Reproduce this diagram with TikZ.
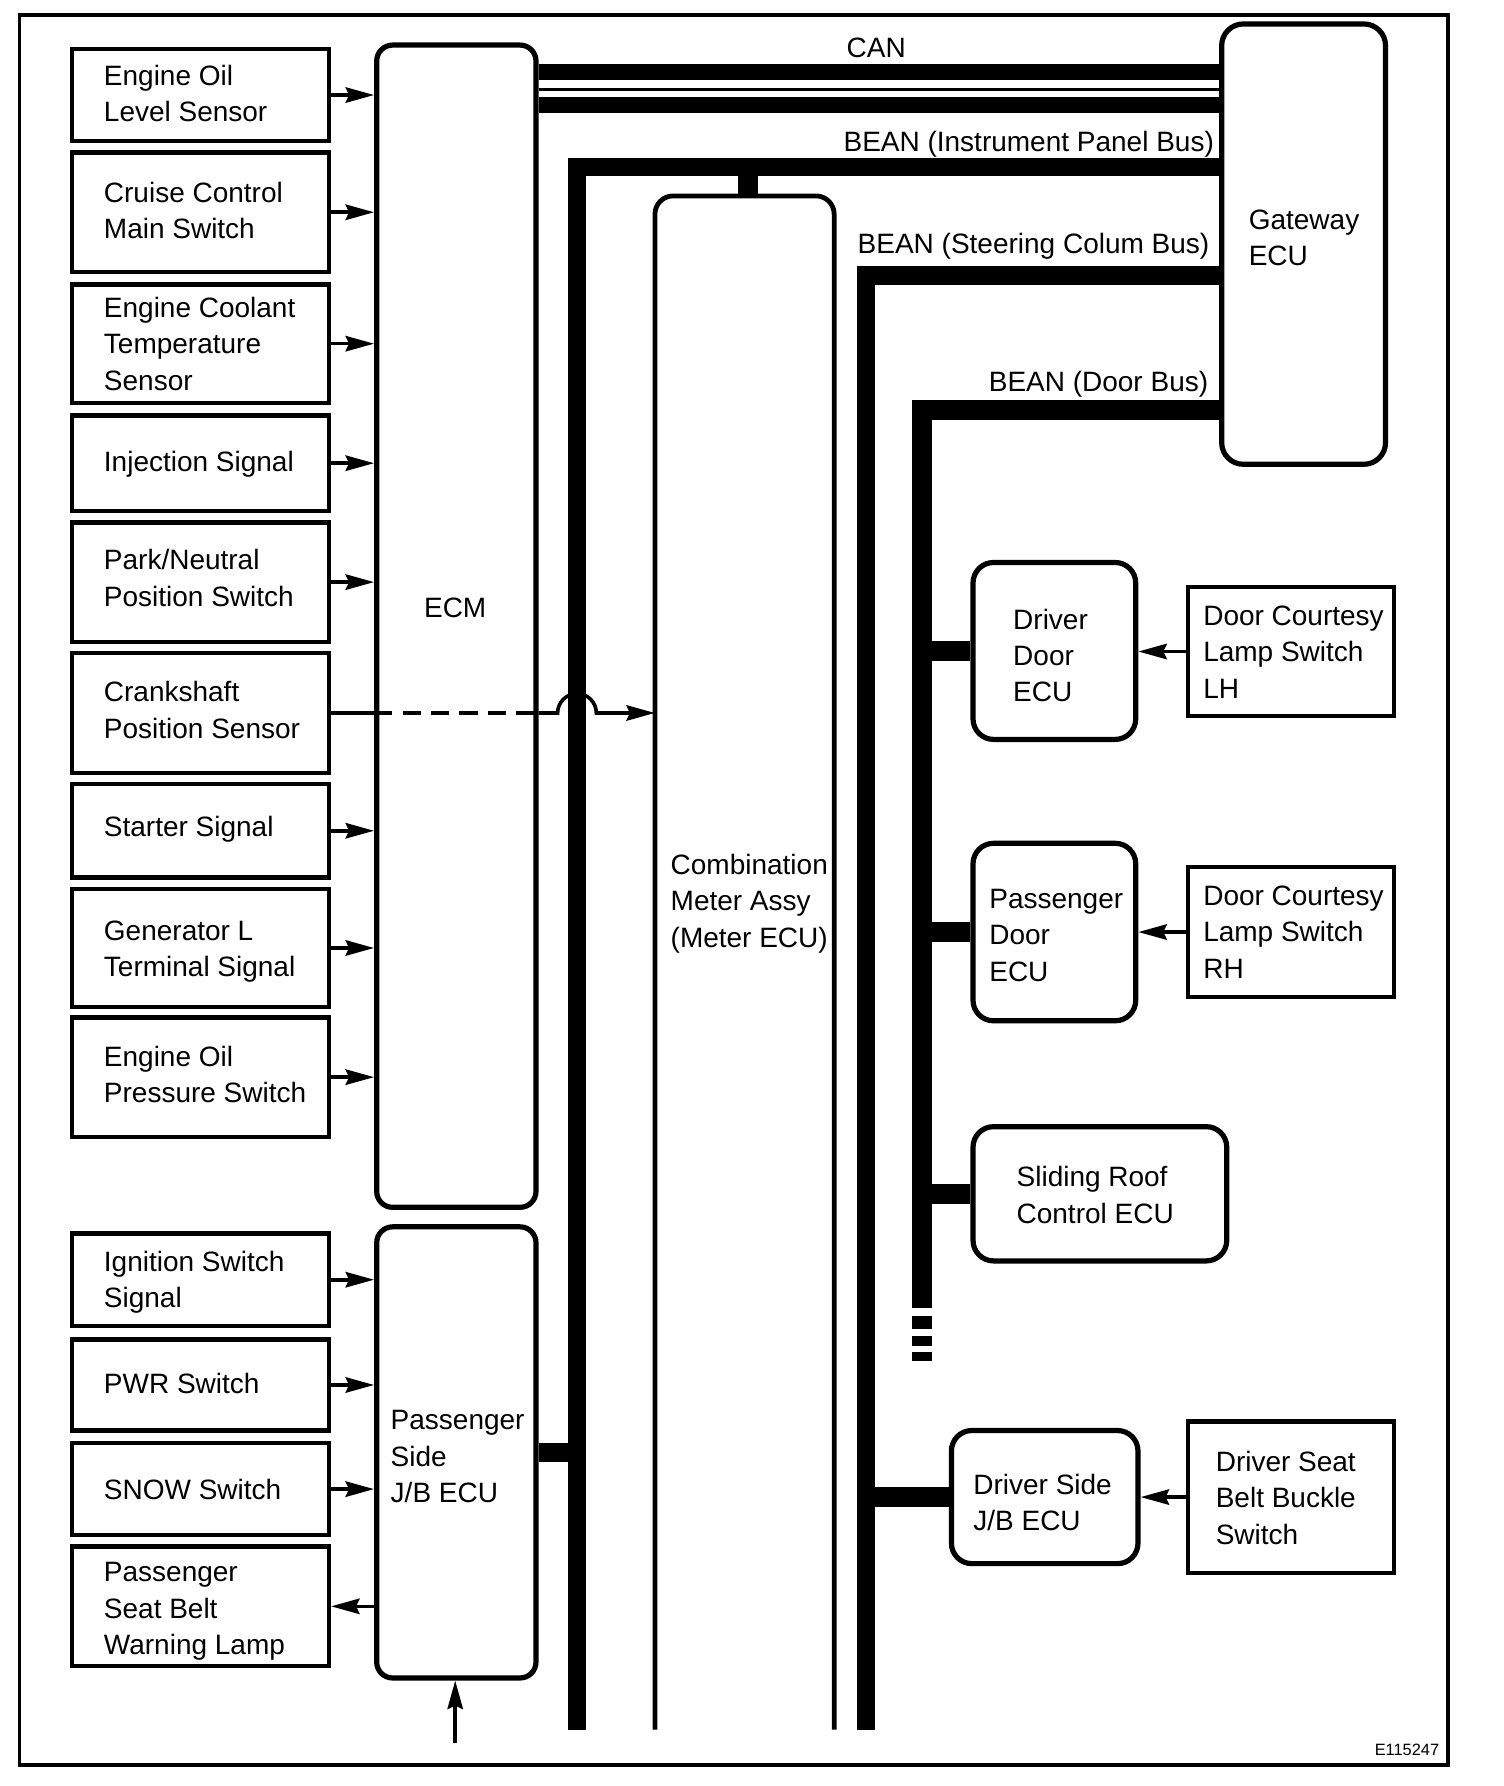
\documentclass[tikz,border=0pt]{standalone}
\usepackage{fontspec}
\setmainfont{Liberation Sans}
\usetikzlibrary{arrows.meta}

\tikzset{
  inbox/.style={draw, line width=2.2pt, minimum width=4.52cm, inner sep=0pt},
  ecu/.style={draw, line width=2.6pt, rounded corners=0.36cm, inner sep=0pt},
  txt/.style={anchor=west, align=left, inner sep=0pt, font=\fontsize{14}{18.2}\selectfont},
  lbl/.style={inner sep=0pt, font=\fontsize{14}{18.2}\selectfont},
  sig/.style={line width=1.8pt},
  arr/.style={sig, -{Stealth[length=0.5cm, width=0.27cm, inset=0.06cm]}},
  bus/.style={line width=0.32cm, line join=miter},
  canbus/.style={line width=0.28cm},
}

\begin{document}
\begin{tikzpicture}[x=0.02cm, y=-0.02cm]
\useasboundingbox (0,0) rectangle (1321.6,1569.4);

% Frame
\draw[line width=1.7pt] (17,13) rectangle (1272.4,1551);

% ECM, J/B ECU and gateway
\node[ecu, rounded corners=0.28cm, minimum width=2.8cm, minimum height=20.43cm] (ecm) at (401,550.25) {};
\node[lbl] (ecm-t) at (400,534) {ECM};
\node[ecu, rounded corners=0.28cm, minimum width=2.8cm, minimum height=7.93cm] (jb) at (401,1276.25) {};
\node[txt] (jb-t) at (343,1280) {Passenger\\Side\\J/B ECU};
\node[ecu, rounded corners=0.38cm, minimum width=2.88cm, minimum height=7.74cm] (gw) at (1145.5,214.5) {};
\node[txt] (gw-t) at (1097,209) {Gateway\\ECU};

% Combination meter, open at the bottom
\node[minimum width=3.15cm, minimum height=26.96cm, inner sep=0pt, outer sep=0pt] (meter) at (654.25,846) {};
\draw[line width=2.4pt, rounded corners=0.32cm] (meter.south west) -- (meter.north west) -- (meter.north east) -- (meter.south east);
\node[txt] (meter-t) at (589,794) {Combination\\Meter Assy\\(Meter ECU)};
\coordinate (meter-in) at (657,172);

% Input boxes
\node[inbox, minimum height=1.62cm] (oil) at (176,83.5) {};
\node[txt] (oil-t) at (91,82) {Engine Oil\\Level Sensor};
\node[inbox, minimum height=2.1cm] (cruise) at (176,186.5) {};
\node[txt] (cruise-t) at (91,185) {Cruise Control\\Main Switch};
\node[inbox, minimum height=2.08cm] (coolant) at (176,302) {};
\node[txt] (coolant-t) at (91,302) {Engine Coolant\\Temperature\\Sensor};
\node[inbox, minimum height=1.68cm] (inj) at (176,407) {};
\node[txt] (inj-t) at (91,408) {Injection Signal};
\node[inbox, minimum height=2.1cm] (park) at (176,511.5) {};
\node[txt] (park-t) at (91,508) {Park/Neutral\\Position Switch};
\node[inbox, minimum height=2.1cm] (crank) at (176,626.5) {};
\node[txt] (crank-t) at (91,624) {Crankshaft\\Position Sensor};
\node[inbox, minimum height=1.64cm] (starter) at (176,730) {};
\node[txt] (starter-t) at (91,729) {Starter Signal};
\node[inbox, minimum height=2.08cm] (gen) at (176,833) {};
\node[txt] (gen-t) at (91,836) {Generator L\\Terminal Signal};
\node[inbox, minimum height=2.1cm] (oilp) at (176,946.5) {};
\node[txt] (oilp-t) at (91,944) {Engine Oil\\Pressure Switch};
\node[inbox, minimum height=1.62cm] (ign) at (176,1124.5) {};
\node[txt] (ign-t) at (91,1127) {Ignition Switch\\Signal};
\node[inbox, minimum height=1.6cm] (pwr) at (176,1217) {};
\node[txt] (pwr-t) at (91,1216) {PWR Switch};
\node[inbox, minimum height=1.62cm] (snow) at (176,1308.5) {};
\node[txt] (snow-t) at (91,1309) {SNOW Switch};
\node[inbox, minimum height=2.1cm] (lamp) at (176,1411.5) {};
\node[txt] (lamp-t) at (91,1416) {Passenger\\Seat Belt\\Warning Lamp};

% Inputs to ECM
\draw[arr] (oil.east) -- (oil.east -| ecm.west);
\draw[arr] (cruise.east) -- (cruise.east -| ecm.west);
\draw[arr] (coolant.east) -- (coolant.east -| ecm.west);
\draw[arr] (inj.east) -- (inj.east -| ecm.west);
\draw[arr] (park.east) -- (park.east -| ecm.west);
\draw[arr] (starter.east) -- (starter.east -| ecm.west);
\draw[arr] (gen.east) -- (gen.east -| ecm.west);
\draw[arr] (oilp.east) -- (oilp.east -| ecm.west);

% Crankshaft signal to the meter, hopping over the bus
\coordinate (hop) at (490,626);
\draw[sig] (crank.east) -- (crank.east -| ecm.west);
\draw[sig, dash pattern=on 0.32cm off 0.18cm] (crank.east -| ecm.west) -- (crank.east -| ecm.east);
\draw[arr] (crank.east -| ecm.east) -- (crank.east -| hop) arc (180:0:0.34cm) -- (crank.east -| meter.west);

% Inputs to J/B ECU
\draw[arr] (ign.east) -- (ign.east -| jb.west);
\draw[arr] (pwr.east) -- (pwr.east -| jb.west);
\draw[arr] (snow.east) -- (snow.east -| jb.west);
\draw[arr] (lamp.east -| jb.west) -- (lamp.east);
\coordinate (jb-in) at (400,1532);
\draw[arr] (jb-in) -- (jb-in |- jb.south);

% CAN
\coordinate (can-a) at (771,63.5);
\coordinate (can-b) at (771,78.5);
\coordinate (can-c) at (771,92.5);
\draw[canbus] (can-a -| ecm.east) -- (can-a -| gw.west);
\draw[line width=1.3pt] (can-b -| ecm.east) -- (can-b -| gw.west);
\draw[canbus] (can-c -| ecm.east) -- (can-c -| gw.west);
\node[lbl] (can-lbl) at (770,42) {CAN};

% BEAN buses
\coordinate (ip-top) at (507,147);
\coordinate (ip-end) at (507,1520);
\draw[bus] (ip-top -| gw.west) -- (ip-top) -- (ip-end);
\draw[bus, line width=0.35cm] (meter-in) -- (meter-in |- ip-top);
\draw[bus] (jb.east) -- (jb.east -| ip-top);
\node[lbl, anchor=east] (ip-lbl) at (1067,127) {BEAN (Instrument Panel Bus)};

\coordinate (st-top) at (761,242);
\coordinate (st-end) at (761,1520);
\draw[bus] (st-top -| gw.west) -- (st-top) -- (st-end);
\node[lbl, anchor=east] (st-lbl) at (1063,216) {BEAN (Steering Colum Bus)};

\coordinate (door-top) at (810,360);
\coordinate (door-end) at (810,1149.5);
\draw[bus, line width=0.35cm] (door-top -| gw.west) -- (door-top) -- (door-end);
\draw[bus, line width=0.35cm] (810,1156.5) -- (810,1168);
\draw[bus, line width=0.35cm] (810,1174) -- (810,1183);
\draw[bus, line width=0.35cm] (810,1188) -- (810,1196);
\node[lbl, anchor=east] (door-lbl) at (1062,338) {BEAN (Door Bus)};

% Body ECUs and switches
\node[ecu, minimum width=2.86cm, minimum height=3.11cm] (ddoor) at (926.5,572) {};
\node[txt] (ddoor-t) at (890,576) {Driver\\Door\\ECU};
\node[inbox, minimum width=3.62cm, minimum height=2.26cm] (lh) at (1134.5,572.5) {};
\node[txt] (lh-t) at (1057,573) {Door Courtesy\\Lamp Switch\\LH};
\node[ecu, minimum width=2.86cm, minimum height=3.12cm] (pdoor) at (926.5,819) {};
\node[txt] (pdoor-t) at (869,822) {Passenger\\Door\\ECU};
\node[inbox, minimum width=3.62cm, minimum height=2.28cm] (rh) at (1134.5,819) {};
\node[txt] (rh-t) at (1057,819) {Door Courtesy\\Lamp Switch\\RH};
\node[ecu, minimum width=4.46cm, minimum height=2.36cm] (roof) at (966.5,1049) {};
\node[txt] (roof-t) at (893,1050) {Sliding Roof\\Control ECU};
\node[ecu, minimum width=3.28cm, minimum height=2.34cm] (djb) at (918,1315.5) {};
\node[txt] (djb-t) at (855,1320) {Driver Side\\J/B ECU};
\node[inbox, minimum width=3.62cm, minimum height=2.66cm] (belt) at (1134.5,1315.5) {};
\node[txt] (belt-t) at (1068,1316) {Driver Seat\\Belt Buckle\\Switch};

% Stubs to the buses
\draw[bus, line width=0.36cm] (ddoor.west) -- (ddoor.west -| door-top);
\draw[bus, line width=0.36cm] (pdoor.west) -- (pdoor.west -| door-top);
\draw[bus, line width=0.36cm] (roof.west) -- (roof.west -| door-top);
\draw[bus, line width=0.36cm] (djb.west) -- (djb.west -| st-top);

% Switch signals
\draw[arr] (lh.west) -- (lh.west -| ddoor.east);
\draw[arr] (rh.west) -- (rh.west -| pdoor.east);
\draw[arr] (belt.west) -- (belt.west -| djb.east);

% Figure code
\node[anchor=east, inner sep=0pt, font=\fontsize{8.2}{10}\selectfont] (code) at (1265,1538) {E115247};
\end{tikzpicture}
\end{document}
